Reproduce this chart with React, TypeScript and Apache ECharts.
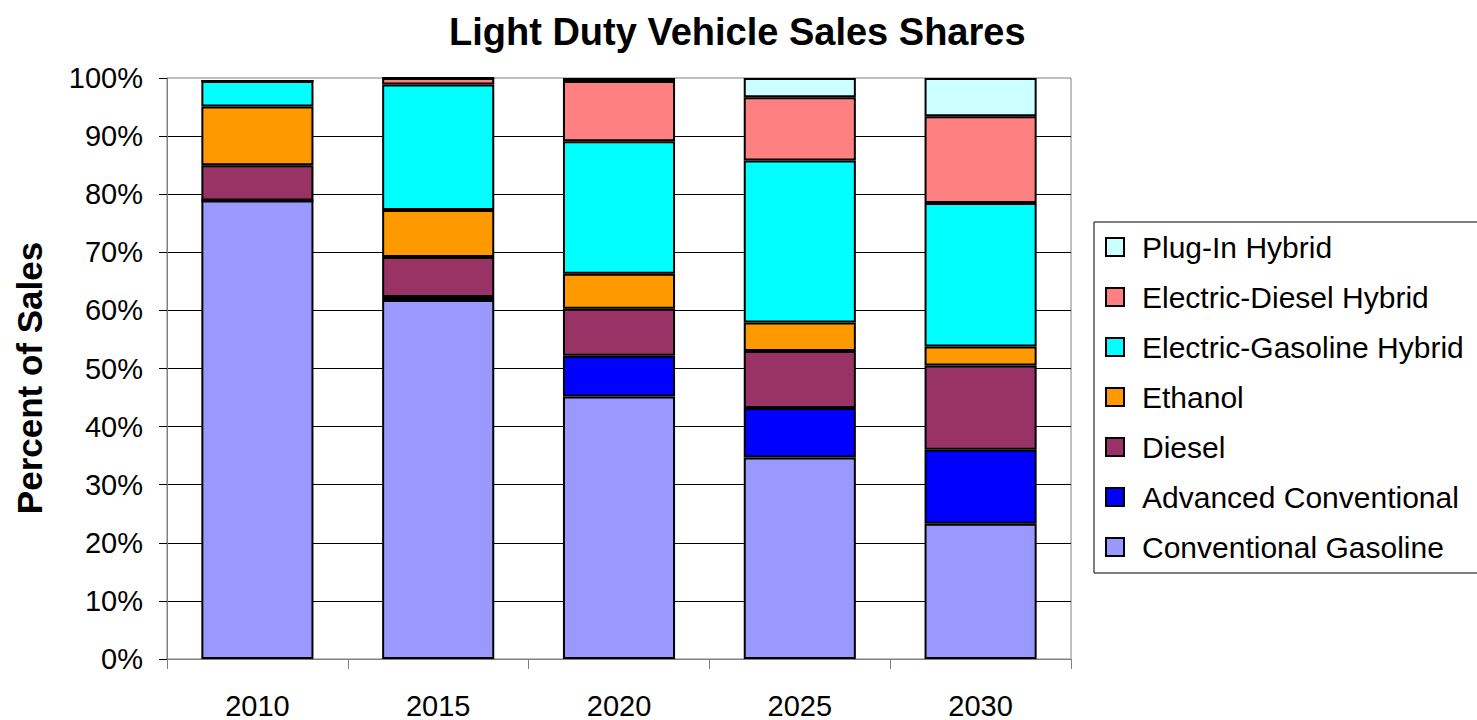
import React, { useEffect, useRef } from "react";
import * as echarts from "echarts";

const categories = ["2010", "2015", "2020", "2025", "2030"];
const conventionalGasoline = [78.9, 61.8, 45.2, 34.7, 23.3];
const advancedConventional = [0, 0.5, 7.0, 8.5, 12.7];
const diesel = [6.1, 6.9, 8.1, 9.8, 14.5];
const ethanol = [10.1, 8.1, 6.0, 4.9, 3.3];
const electricGasolineHybrid = [4.4, 21.6, 22.8, 27.9, 24.7];
const electricDieselHybrid = [0, 1.1, 10.4, 10.9, 14.9];
const plugInHybrid = [0, 0, 0.5, 3.3, 6.6];

const seriesDefs = [
  { name: "Conventional Gasoline", data: conventionalGasoline, color: "#9999FF" },
  { name: "Advanced Conventional", data: advancedConventional, color: "#0000FF" },
  { name: "Diesel", data: diesel, color: "#993366" },
  { name: "Ethanol", data: ethanol, color: "#FF9900" },
  { name: "Electric-Gasoline Hybrid", data: electricGasolineHybrid, color: "#00FFFF" },
  { name: "Electric-Diesel Hybrid", data: electricDieselHybrid, color: "#FF8080" },
  { name: "Plug-In Hybrid", data: plugInHybrid, color: "#CCFFFF" },
];

const FONT = "'Liberation Sans', Arial, sans-serif";

export default function App() {
  const ref = useRef<HTMLDivElement>(null);
  useEffect(() => {
    document.body.style.margin = "0";
    if (!ref.current) return;
    const chart = echarts.init(ref.current, undefined, { renderer: "svg" });
    chart.setOption({
      animation: false,
      backgroundColor: "#fff",
      title: {
        text: "Light Duty Vehicle Sales Shares",
        left: 444,
        top: 8,
        textStyle: { fontFamily: FONT, fontSize: 38, fontWeight: "bold", color: "#000" },
      },
      grid: {
        left: 167,
        right: 1477 - 1071,
        top: 78,
        bottom: 720 - 663,
        show: true,
        borderColor: "#808080",
        borderWidth: 1,
        backgroundColor: "transparent",
      },
      legend: {
        orient: "vertical",
        left: 1094,
        top: 222,
        data: seriesDefs.map((s) => s.name).reverse(),
        itemWidth: 18,
        itemHeight: 18,
        itemGap: 20,
        icon: "rect",
        padding: [10, 30, 11, 11],
        borderColor: "#000",
        borderWidth: 1,
        textStyle: {
          fontFamily: FONT,
          fontSize: 30,
          lineHeight: 30,
          color: "#000",
          padding: [0, 0, 0, 13],
        },
        itemStyle: { borderColor: "#000", borderWidth: 2 },
      },
      xAxis: {
        type: "category",
        data: categories,
        axisLine: { lineStyle: { color: "#808080", width: 1 } },
        axisTick: { show: true, length: 10, lineStyle: { color: "#808080" } },
        axisLabel: { fontFamily: FONT, fontSize: 29, color: "#000", margin: 32 },
      },
      yAxis: {
        type: "value",
        min: 0,
        max: 100,
        interval: 10,
        axisLine: { show: true, lineStyle: { color: "#808080", width: 1 } },
        axisTick: { show: true, length: 8, lineStyle: { color: "#000" } },
        axisLabel: {
          fontFamily: FONT,
          fontSize: 29,
          color: "#000",
          margin: 24,
          formatter: "{value}%",
        },
        splitLine: {
          show: true,
          showMinLine: false,
          showMaxLine: false,
          lineStyle: { color: "#000", width: 1 },
        },
      },
      graphic: [
        {
          type: "text",
          x: 29,
          y: 378,
          rotation: Math.PI / 2,
          style: {
            text: "Percent of Sales",
            font: `bold 35px ${FONT}`,
            fill: "#000",
            textAlign: "center",
            textVerticalAlign: "middle",
          },
        },
      ],
      series: seriesDefs.map((s) => ({
        name: s.name,
        type: "bar",
        stack: "total",
        barWidth: "62%",
        data: s.data,
        itemStyle: { color: s.color, borderColor: "#000", borderWidth: 2 },
      })),
    });
    return () => chart.dispose();
  }, []);
  return <div ref={ref} style={{ width: 1477, height: 720 }} />;
}
